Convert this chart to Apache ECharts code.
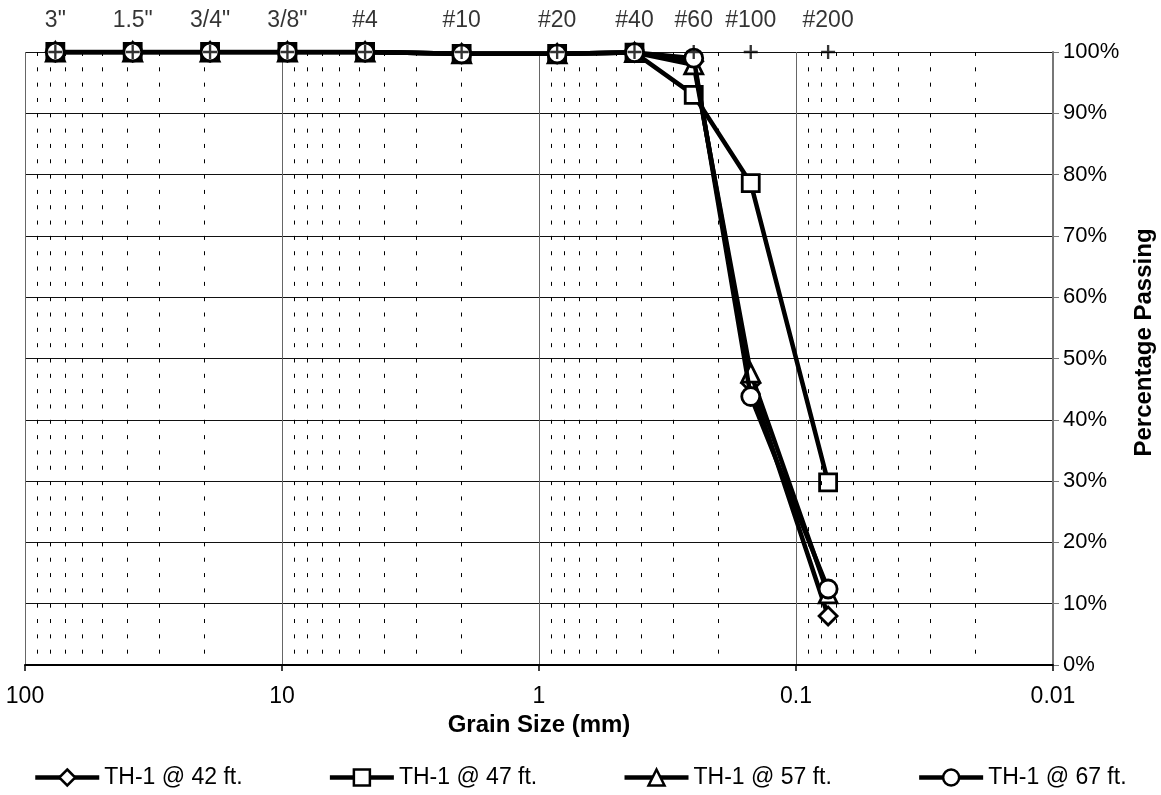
<!DOCTYPE html>
<html><head><meta charset="utf-8">
<script src="https://cdn.jsdelivr.net/npm/echarts@6/dist/echarts.min.js"></script>
<style>html,body{margin:0;padding:0;background:#fff}#c{width:1161px;height:795px}</style>
</head><body><div id="c"></div>
<script>
// Sieve designations and opening sizes (mm)
const sieveLabels = ['3"', '1.5"', '3/4"', '3/8"', '#4', '#10', '#20', '#40', '#60', '#100', '#200'];
const sieveSizes = [76.2, 38.1, 19.05, 9.525, 4.75, 2.0, 0.85, 0.425, 0.25, 0.15, 0.075];
// Percent passing per sample
const seriesNames = ['TH-1 @ 42 ft.', 'TH-1 @ 47 ft.', 'TH-1 @ 57 ft.', 'TH-1 @ 67 ft.'];
const pass42 = [100, 100, 100, 100, 100, 99.7, 99.7, 99.9, 98.5, 46.0, 8.0];
const pass47 = [100, 100, 100, 100, 100, 99.7, 99.7, 99.9, 93.0, 78.6, 29.8];
const pass57 = [100, 100, 100, 100, 100, 99.7, 99.7, 99.9, 97.9, 47.6, 11.6];
const pass67 = [100, 100, 100, 100, 100, 99.7, 99.7, 99.9, 99.0, 43.8, 12.4];
const seriesSymbols = ['diamond', 'rect', 'triangle', 'circle'];
// Axis ticks
const xMajorTicks = [100, 10, 1, 0.1, 0.01];
const xMinorLines = [90, 80, 70, 60, 50, 40, 30, 20, 9, 8, 7, 6, 5, 4, 3, 2,
  0.9, 0.8, 0.7, 0.6, 0.5, 0.4, 0.3, 0.2, 0.09, 0.08, 0.07, 0.06, 0.05, 0.04, 0.03, 0.02];
const yTicks = [0, 10, 20, 30, 40, 50, 60, 70, 80, 90, 100];

const FONT = "'Liberation Sans', Arial, Helvetica, sans-serif";
const GRID = { left: 25, right: 108, top: 52, bottom: 130, containLabel: false, outerBoundsMode: 'none' };
const plotH = 795 - GRID.top - GRID.bottom;
const period = plotH / 40;

const allPass = [pass42, pass47, pass57, pass67];

const dataSeries = seriesNames.map((n, k) => ({
  name: n,
  type: 'line',
  data: sieveSizes.map((s, i) => [s, allPass[k][i]]),
  symbol: seriesSymbols[k],
  symbolSize: seriesSymbols[k] === 'rect' ? 17 : 18,
  showAllSymbol: true,
  lineStyle: { color: '#000', width: 4.5 },
  itemStyle: { color: '#fff', borderColor: '#000', borderWidth: 2.8 },
  emphasis: { disabled: true },
  animation: false,
  z: 3 + k
}));

const chart = echarts.init(document.getElementById('c'), null, { renderer: 'canvas' });
chart.setOption({
  animation: false,
  backgroundColor: '#fff',
  textStyle: { fontFamily: FONT, color: '#000' },
  grid: GRID,
  legend: {
    data: seriesNames,
    left: 33,
    top: 766,
    padding: 0,
    itemWidth: 64,
    itemHeight: 20,
    itemGap: 85,
    textStyle: { fontSize: 23, color: '#000', fontFamily: FONT },
    lineStyle: { width: 4.5, color: '#000' },
    itemStyle: { color: '#fff', borderColor: '#000', borderWidth: 2.5 }
  },
  xAxis: {
    type: 'log', logBase: 10, min: 0.01, max: 100, inverse: true,
    axisLine: { show: true, onZero: false, lineStyle: { color: '#000', width: 2 } },
    axisTick: { show: true, length: 6, lineStyle: { color: '#000', width: 1.5 } },
    axisLabel: {
      fontSize: 23, color: '#000', margin: 20, fontFamily: FONT,
      formatter: v => v >= 1 ? String(Math.round(v)) : String(+Number(v).toPrecision(1))
    },
    splitLine: { show: true, lineStyle: { color: '#666', width: 1 } },
    name: 'Grain Size (mm)', nameLocation: 'middle', nameGap: 46,
    nameTextStyle: { fontSize: 24, fontWeight: 'bold', color: '#000', fontFamily: FONT }
  },
  yAxis: {
    type: 'value', position: 'right', min: 0, max: 100, interval: 10,
    axisLine: { show: true, onZero: false, lineStyle: { color: '#777', width: 2 } },
    axisTick: { show: true, length: 6, lineStyle: { color: '#777', width: 1 } },
    axisLabel: { fontSize: 22, color: '#000', margin: 10, formatter: '{value}%', fontFamily: FONT },
    splitLine: { show: true, lineStyle: { color: '#111', width: 1 } },
    name: 'Percentage Passing', nameLocation: 'middle', nameGap: 79, nameRotate: 90,
    nameTextStyle: { fontSize: 24, fontWeight: 'bold', color: '#000', fontFamily: FONT, padding: [0, 0, 0, 32] }
  },
  series: [
    {
      name: 'minor', type: 'line', data: [], silent: true, z: 1,
      markLine: {
        silent: true, symbol: ['none', 'none'], animation: false,
        label: { show: false },
        lineStyle: { color: '#000', width: 1, type: [4, period - 4], dashOffset: 4 },
        emphasis: { disabled: true },
        data: xMinorLines.map(v => ({ xAxis: v }))
      }
    },
    ...dataSeries,
    {
      name: 'sieves', type: 'scatter', z: 20, silent: true,
      data: sieveSizes.map((s, i) => ({ name: sieveLabels[i], value: [s, 100] })),
      symbol: 'path://M5,0H7V5H12V7H7V12H5V7H0V5H5Z',
      symbolSize: 14,
      itemStyle: { color: '#000' },
      label: { show: true, position: 'top', distance: 13, formatter: '{b}', fontSize: 23, color: '#000', fontFamily: FONT },
      emphasis: { disabled: true }
    }
  ]
});
</script>
</body></html>
